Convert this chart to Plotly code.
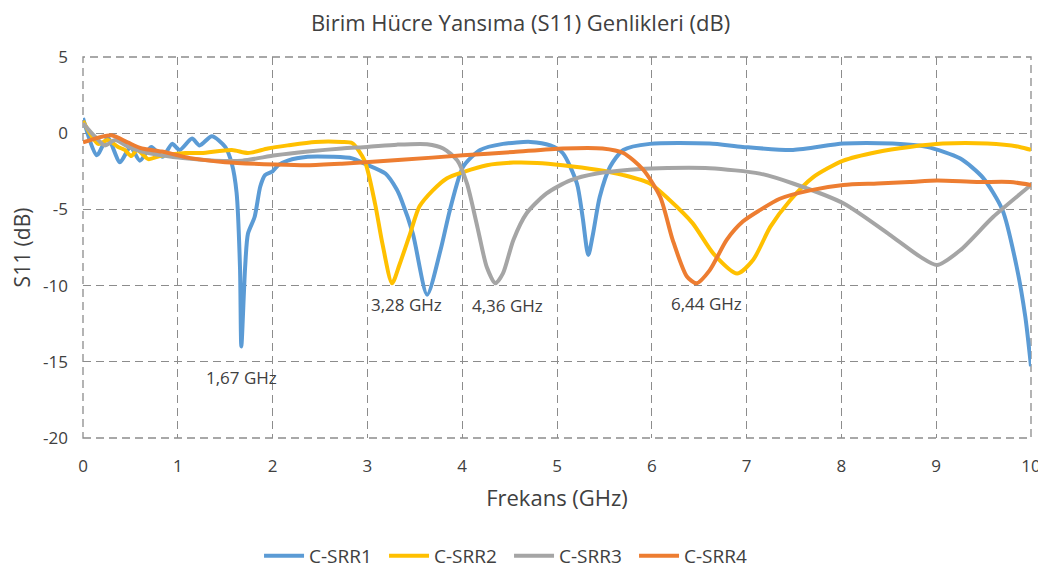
import plotly.graph_objects as go

# C-SRR1
f1 = [0.0, 0.145, 0.26, 0.39, 0.50, 0.60, 0.72, 0.84, 0.94, 1.02, 1.15, 1.23, 1.36, 1.50, 1.57,
      1.62, 1.656, 1.67, 1.71, 1.74, 1.81, 1.87, 1.92, 2.00, 2.06, 2.16, 2.37, 2.63, 2.84, 2.97,
      3.19, 3.31, 3.36, 3.48, 3.63, 3.77, 3.87, 4.01, 4.19, 4.43, 4.72, 4.93, 5.06, 5.21, 5.27,
      5.33, 5.38, 5.45, 5.56, 5.70, 5.98, 6.61, 6.96, 7.49, 8.02, 8.54, 8.90, 9.25, 9.49, 9.70,
      9.85, 9.94, 10.0]
s1 = [1.0, -1.45, -0.3, -1.9, -0.9, -1.8, -0.9, -1.55, -0.7, -1.1, -0.35, -0.8, -0.2, -0.9, -2.0,
      -3.9, -8.8, -14.0, -8.8, -6.6, -5.5, -3.5, -2.75, -2.5, -2.1, -1.8, -1.55, -1.55, -1.65, -2.0,
      -2.65, -3.7, -4.4, -6.6, -10.6, -7.7, -5.05, -2.2, -1.1, -0.7, -0.57, -0.8, -1.3, -3.3, -5.5,
      -8.0, -6.6, -4.2, -2.2, -1.1, -0.7, -0.68, -0.9, -1.1, -0.68, -0.68, -0.9, -1.65, -2.9, -5.05,
      -8.8, -12.05, -15.3]

# C-SRR2
f2 = [0.0, 0.16, 0.26, 0.37, 0.44, 0.51, 0.57, 0.69, 0.81, 1.08, 1.25, 1.57, 1.74, 1.95, 2.16,
      2.45, 2.73, 2.84, 2.97, 3.08, 3.16, 3.26, 3.34, 3.45, 3.55, 3.69, 3.84, 4.01, 4.26, 4.54,
      4.79, 5.06, 5.42, 5.70, 5.98, 6.19, 6.43, 6.65, 6.90, 7.07, 7.25, 7.46, 7.70, 8.02, 8.38,
      8.72, 9.07, 9.54, 9.88, 10.0]
s2 = [0.8, -0.7, -0.45, -0.9, -1.1, -1.5, -1.1, -1.7, -1.5, -1.3, -1.3, -1.1, -1.3, -1.0, -0.8,
      -0.57, -0.57, -0.65, -1.8, -4.6, -7.3, -9.85, -8.6, -6.6, -4.8, -3.75, -2.95, -2.55, -2.1, -1.93,
      -1.95, -2.1, -2.4, -2.75, -3.3, -4.4, -5.9, -7.9, -9.2, -8.3, -6.15, -4.4, -2.9, -1.8, -1.23,
      -0.9, -0.68, -0.68, -0.9, -1.1]

# C-SRR3
f3 = [0.0, 0.13, 0.23, 0.34, 0.48, 0.62, 0.83, 1.08, 1.39, 1.68, 2.03, 2.37, 2.73, 3.0, 3.31,
      3.63, 3.80, 3.95, 4.05, 4.16, 4.26, 4.35, 4.43, 4.54, 4.68, 4.89, 5.14, 5.42, 5.77, 6.08,
      6.61, 7.14, 7.49, 8.02, 8.54, 8.83, 9.01, 9.25, 9.60, 10.0]
s3 = [0.65, -0.25, -0.8, -0.45, -0.9, -1.2, -1.45, -1.65, -1.8, -1.8, -1.45, -1.2, -1.0, -0.9, -0.75,
      -0.72, -1.0, -1.8, -3.3, -6.15, -8.8, -9.85, -9.2, -7.0, -5.25, -3.95, -3.1, -2.65, -2.4, -2.3,
      -2.3, -2.65, -3.3, -4.6, -6.8, -8.1, -8.65, -7.7, -5.5, -3.4]

# C-SRR4
f4 = [0.0, 0.30, 0.47, 0.62, 0.83, 1.0, 1.15, 1.5, 2.03, 2.37, 2.73, 3.36, 4.01, 4.54, 5.06,
      5.48, 5.70, 5.91, 6.09, 6.22, 6.37, 6.47, 6.61, 6.79, 6.96, 7.14, 7.35, 7.67, 8.02, 8.38,
      8.72, 9.01, 9.43, 9.78, 10.0]
s4 = [-0.6, -0.13, -0.6, -1.0, -1.2, -1.45, -1.65, -1.9, -2.05, -2.1, -2.0, -1.75, -1.45, -1.23, -1.0,
      -1.0, -1.3, -2.4, -4.2, -7.0, -9.4, -9.85, -9.0, -7.0, -5.8, -5.05, -4.3, -3.75, -3.4, -3.3,
      -3.2, -3.1, -3.2, -3.2, -3.4]

names = ["C-SRR1", "C-SRR2", "C-SRR3", "C-SRR4"]
colors = ["#5B9BD5", "#FFC000", "#A5A5A5", "#ED7D31"]

# resonance labels
lbl_text = ["1,67 GHz", "3,28 GHz", "4,36 GHz", "6,44 GHz"]
lbl_x = [1.67, 3.41, 4.48, 6.58]
lbl_y = [-16.06, -11.22, -11.33, -11.18]

# tick labels (Excel style hyphen minus)
y_ticks = [5, 0, -5, -10, -15, -20]
y_ticktext = ["5", "0", "-5", "-10", "-15", "-20"]
x_ticks = [0, 1, 2, 3, 4, 5, 6, 7, 8, 9, 10]

txt = "#404040"
dash = "8px,5px"

fig = go.Figure()
for f, s, n, c in zip([f1, f2, f3, f4], [s1, s2, s3, s4], names, colors):
    fig.add_trace(go.Scatter(x=f, y=s, mode="lines", name=n,
                             line=dict(color=c, width=4, shape="spline", smoothing=0.7)))

for t, x, y in zip(lbl_text, lbl_x, lbl_y):
    fig.add_annotation(x=x, y=y, text=t, showarrow=False, font=dict(size=17, color=txt))

# dashed frame round the plot area (edge gridlines)
fig.add_shape(type="rect", xref="x domain", yref="y domain", x0=0, x1=1, y0=0, y1=1,
              line=dict(color="#8C8C8C", width=1.3, dash=dash), layer="below")

grid = dict(showgrid=True, gridcolor="#8C8C8C", griddash=dash, gridwidth=1.3,
            zeroline=False, showline=False, ticks="", automargin=False,
            tickfont=dict(size=17, color=txt))

# page body adds 8px offset, margins compensate for it
fig.update_layout(
    title=dict(text="Birim Hücre Yansıma (S11) Genlikleri (dB)", x=0.49, xanchor="center",
               y=0.974, yanchor="middle", font=dict(size=22, color=txt)),
    font=dict(family="Open Sans", color=txt),
    plot_bgcolor="white", paper_bgcolor="white",
    width=1046, height=572,
    margin=dict(l=75, r=23, t=49, b=142),
    xaxis=dict(range=[0, 10], tickvals=x_ticks, ticklabelstandoff=16,
               title=dict(text="Frekans (GHz)", font=dict(size=22), standoff=14), **grid),
    yaxis=dict(range=[-20, 5], tickvals=y_ticks, ticktext=y_ticktext, ticklabelstandoff=14,
               title=dict(text="S11 (dB)", font=dict(size=21), standoff=6), **grid),
    legend=dict(orientation="h", xref="container", yref="container",
                x=0.24, xanchor="left", y=0.042, yanchor="middle",
                font=dict(size=19, color=txt), itemwidth=40,
                entrywidth=70, entrywidthmode="pixels"),
    showlegend=True,
)

fig.write_html("out.html")
